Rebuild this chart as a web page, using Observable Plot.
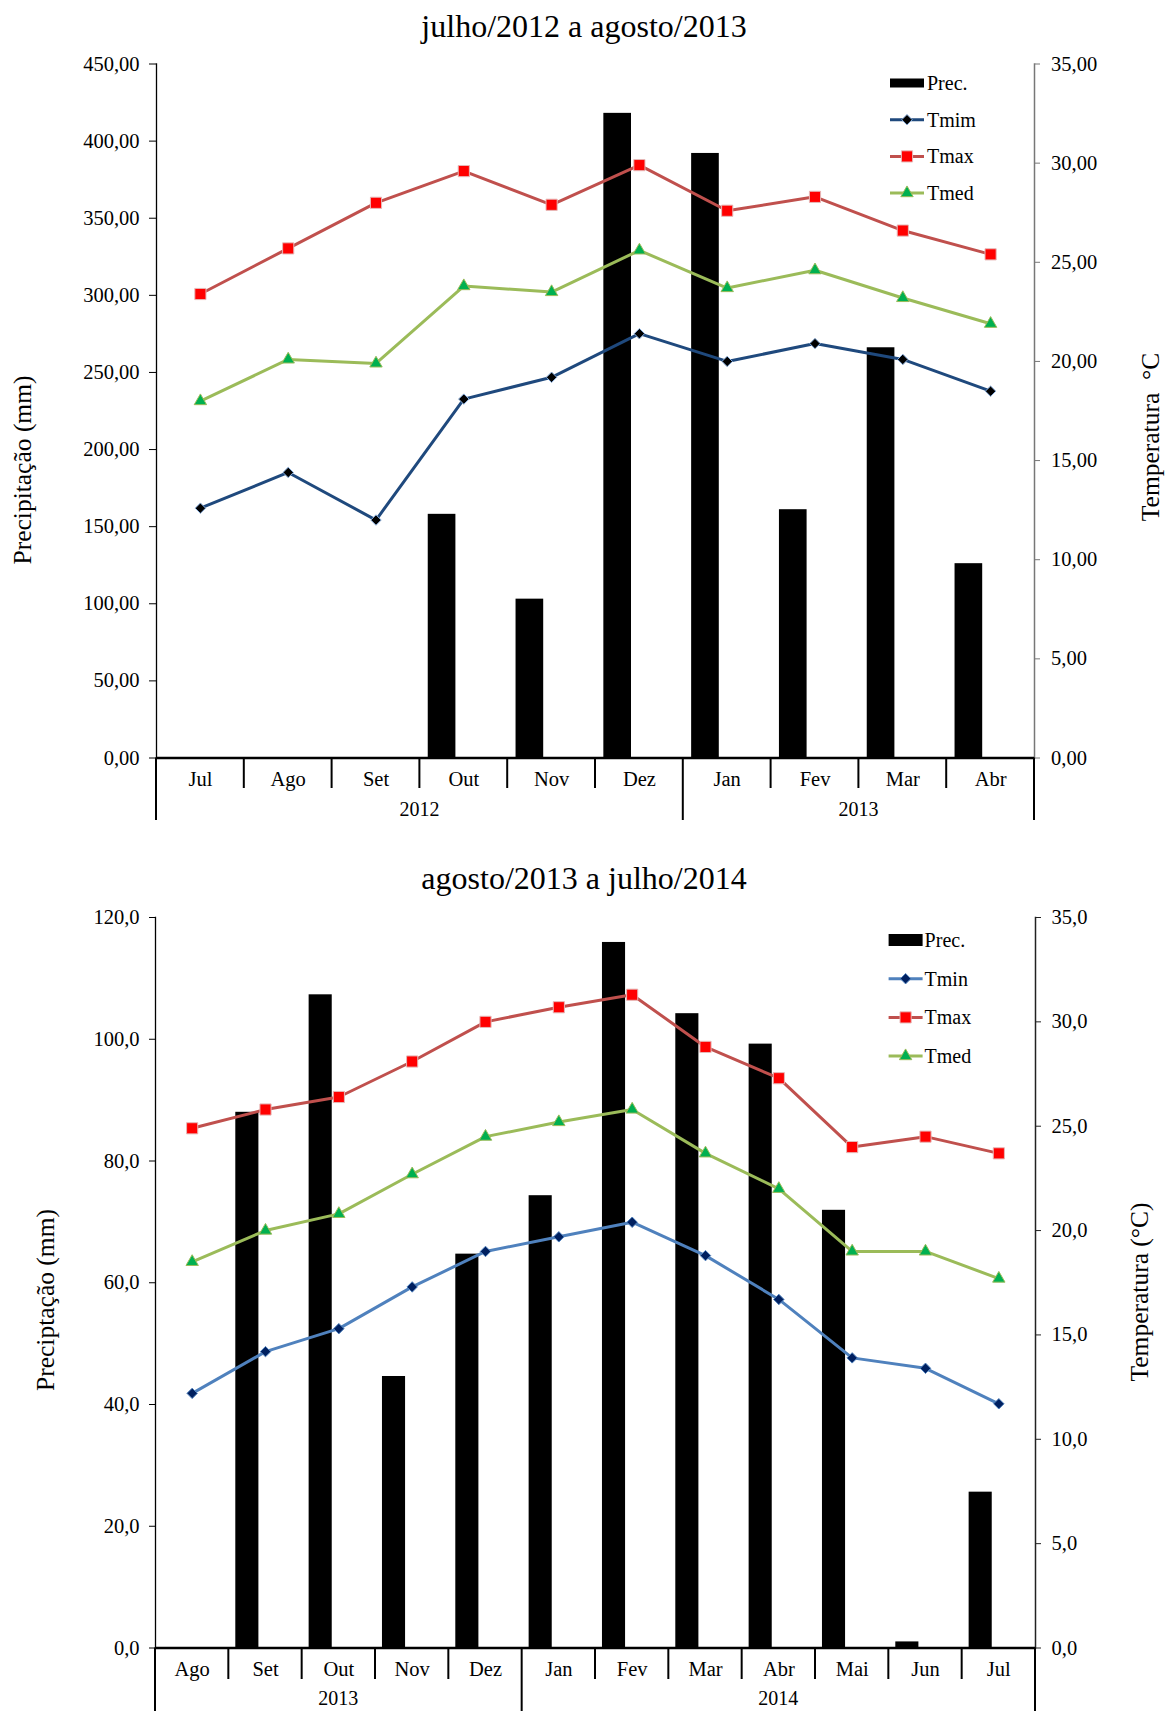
<!DOCTYPE html>
<html><head><meta charset="utf-8">
<script src="https://cdn.jsdelivr.net/npm/d3@7"></script>
<script src="https://cdn.jsdelivr.net/npm/@observablehq/plot@0.6"></script>
<style>
body{margin:0;background:#fff;}
#page{position:relative;width:1168px;height:1711px;font-family:"Liberation Serif","Times New Roman",serif;color:#000;overflow:hidden;}
.title{position:absolute;left:0;width:1168px;text-align:center;font-size:32px;line-height:32px;}
.chart{position:absolute;left:0;}
</style></head>
<body><div id="page">
<div class="title" style="top:10px">julho/2012 a agosto/2013</div>
<div class="chart" id="c1" style="top:45px"></div>
<div class="title" style="top:862px">agosto/2013 a julho/2014</div>
<div class="chart" id="c2" style="top:895px"></div>
</div>
<script>
// ---- Chart 1 data: julho/2012 a agosto/2013
const months1 = ["Jul","Ago","Set","Out","Nov","Dez","Jan","Fev","Mar","Abr"];
const years1  = ["2012","2012","2012","2012","2012","2012","2013","2013","2013","2013"];
const prec1   = [0, 0, 0, 158, 103, 418, 392, 161, 266, 126];
const tmin1   = [12.6, 14.4, 12.0, 18.1, 19.2, 21.4, 20.0, 20.9, 20.1, 18.5];
const tmax1   = [23.4, 25.7, 28.0, 29.6, 27.9, 29.9, 27.6, 28.3, 26.6, 25.4];
const tmed1   = [18.0, 20.1, 19.9, 23.8, 23.5, 25.6, 23.7, 24.6, 23.2, 21.9];
const legend1 = ["Prec.","Tmim","Tmax","Tmed"];

// ---- Chart 2 data: agosto/2013 a julho/2014
const months2 = ["Ago","Set","Out","Nov","Dez","Jan","Fev","Mar","Abr","Mai","Jun","Jul"];
const years2  = ["2013","2013","2013","2013","2013","2014","2014","2014","2014","2014","2014","2014"];
const prec2   = [0, 88.0, 107.3, 44.6, 64.7, 74.3, 115.9, 104.2, 99.2, 71.9, 1.0, 25.6];
const tmin2   = [12.2, 14.2, 15.3, 17.3, 19.0, 19.7, 20.4, 18.8, 16.7, 13.9, 13.4, 11.7];
const tmax2   = [24.9, 25.8, 26.4, 28.1, 30.0, 30.7, 31.3, 28.8, 27.3, 24.0, 24.5, 23.7];
const tmed2   = [18.5, 20.0, 20.8, 22.7, 24.5, 25.2, 25.8, 23.7, 22.0, 19.0, 19.0, 17.7];
const legend2 = ["Prec.","Tmin","Tmax","Tmed"];

const FONT = '"Liberation Serif","Times New Roman",serif';
const TICKFS = 20.5;
const comma = (d, n) => d.toFixed(n).replace(".", ",");

function makeChart(o) {
  const data = o.months.map((m, i) => ({m, yr: o.years[i], p: o.prec[i], tn: o.tmin[i], tx: o.tmax[i], tm: o.tmed[i]}));
  const k = o.pMax / o.tMax;
  const bw = (o.width - o.ml - o.mr) / o.months.length;
  const series = [
    {key: "tn", line: o.minLine, symbol: "diamond2", r: 4.7, fill: o.minFill, stroke: o.minStroke},
    {key: "tx", line: "#C0504D", symbol: "square", r: 6.3, fill: "#FF0000", stroke: "#E6B9B8"},
    {key: "tm", line: "#9BBB59", symbol: "triangle", r: 4.6, fill: "#00B050", stroke: "#9BBB59"}
  ];
  const marks = [
    Plot.barY(data, {x: "m", y: "p", fill: "#000", insetLeft: bw * 0.095, insetRight: bw * 0.59}),
    Plot.axisY(d3.range(0, o.pMax + 1e-9, o.pStep), {anchor: "left", tickSize: o.tsL, tickPadding: 10, tickFormat: d => comma(d, o.dec), label: null, fontSize: TICKFS}),
    Plot.axisY(d3.range(0, o.tMax + 1e-9, 5).map(t => t * k), {anchor: "right", tickSize: 5, tickPadding: o.tpR, stroke: o.rightColor, tickFormat: d => comma(d / k, o.dec), label: null, fontSize: TICKFS}),
    Plot.axisX({tickSize: 0, tickPadding: o.tpX, label: null, fontSize: TICKFS}),
    Plot.frame({anchor: "left", stroke: "#000", strokeWidth: 1.3}),
    Plot.frame({anchor: "right", stroke: o.rightColor, strokeWidth: 1.5}),
    Plot.ruleY([0], {stroke: "#000", strokeWidth: 2.5})
  ];
  for (const s of series) {
    marks.push(Plot.line(data, {x: "m", y: d => d[s.key] * k, stroke: s.line, strokeWidth: 3}));
    marks.push(Plot.dot(data, {x: "m", y: d => d[s.key] * k, symbol: s.symbol, r: s.r, fill: s.fill, stroke: s.stroke, strokeWidth: 1}));
  }
  const plot = Plot.plot({
    width: o.width, height: o.height,
    marginLeft: o.ml, marginRight: o.mr, marginTop: o.mt, marginBottom: o.mb,
    style: {fontFamily: FONT, fontSize: TICKFS + "px", color: "#000", background: "transparent", overflow: "visible"},
    x: {type: "band", domain: o.months, padding: 0, round: false, label: null},
    y: {domain: [0, o.pMax], label: null},
    marks
  });

  const svg = d3.select(plot);
  const sx = plot.scale("x");
  const by = o.height - o.mb;
  const n = o.months.length;
  const bound = i => i < n ? sx.apply(o.months[i]) : sx.apply(o.months[n - 1]) + sx.bandwidth;
  // category separators (two-level axis)
  for (let i = 0; i <= n; i++) {
    const x = bound(i);
    const long = i === 0 || i === n || o.years[i] !== o.years[i - 1];
    svg.append("line").attr("x1", x).attr("x2", x).attr("y1", by).attr("y2", by + (long ? o.longLen : o.shortLen))
      .attr("stroke", "#000").attr("stroke-width", 2);
  }
  // year labels
  let start = 0;
  for (let i = 1; i <= n; i++) {
    if (i === n || o.years[i] !== o.years[i - 1]) {
      const cx = (bound(start) + bound(i)) / 2;
      svg.append("text").attr("x", cx).attr("y", by + o.yearOff).attr("dy", "0.35em")
        .attr("text-anchor", "middle").attr("font-size", 20).attr("fill", "#000").text(o.years[start]);
      start = i;
    }
  }
  // legend
  const lg = svg.append("g").attr("font-size", 20).attr("fill", "#000").attr("text-anchor", "start");
  o.legend.forEach((name, i) => {
    const cy = o.lgTop + i * o.lgStep;
    const x0 = o.lgX, x1 = o.lgX + 34;
    if (i === 0) {
      lg.append("rect").attr("x", x0).attr("y", cy - o.lgRectH / 2).attr("width", 34).attr("height", o.lgRectH).attr("fill", "#000");
    } else {
      const s = series[i - 1];
      lg.append("line").attr("x1", x0).attr("x2", x1).attr("y1", cy).attr("y2", cy).attr("stroke", s.line).attr("stroke-width", 3);
      lg.append("path").attr("transform", `translate(${(x0 + x1) / 2},${cy})`)
        .attr("d", d3.symbol(s.symbol === "square" ? d3.symbolSquare : s.symbol === "triangle" ? d3.symbolTriangle : d3.symbolDiamond2, s.r * s.r * Math.PI)())
        .attr("fill", s.fill).attr("stroke", s.stroke).attr("stroke-width", 1);
    }
    lg.append("text").attr("x", x1 + o.lgGap).attr("y", cy).attr("dy", "0.35em").attr("text-anchor", "start").text(name);
  });
  // axis titles
  svg.append("text").attr("transform", `translate(${o.lblL[0]},${o.lblL[1]}) rotate(-90)`)
    .attr("text-anchor", "middle").attr("font-size", 25.5).attr("fill", "#000").style("white-space", "pre").text(o.labelL);
  svg.append("text").attr("transform", `translate(${o.lblR[0]},${o.lblR[1]}) rotate(-90)`)
    .attr("text-anchor", "middle").attr("font-size", 25.5).attr("fill", "#000").style("white-space", "pre").text(o.labelR);
  return plot;
}

document.getElementById("c1").appendChild(makeChart({
  months: months1, years: years1, prec: prec1, tmin: tmin1, tmax: tmax1, tmed: tmed1, legend: legend1,
  width: 1168, height: 795, ml: 156, mr: 134, mt: 18.5, mb: 82.5,
  pMax: 450, pStep: 50, tMax: 35, dec: 2, tsL: 7, tpR: 11.5, tpX: 13.5,
  rightColor: "#777", minLine: "#1F497D", minFill: "#000", minStroke: "#8DB3E2",
  shortLen: 30.5, longLen: 62.5, yearOff: 51.5,
  lgX: 890, lgTop: 38, lgStep: 36.7, lgRectH: 9, lgGap: 3,
  labelL: "Precipitação (mm)", lblL: [31, 425],
  labelR: "Temperatura  °C", lblR: [1159, 392]
}));

document.getElementById("c2").appendChild(makeChart({
  months: months2, years: years2, prec: prec2, tmin: tmin2, tmax: tmax2, tmed: tmed2, legend: legend2,
  width: 1168, height: 816, ml: 155, mr: 133, mt: 22, mb: 63.5,
  pMax: 120, pStep: 20, tMax: 35, dec: 1, tsL: 6, tpR: 11, tpX: 13,
  rightColor: "#222", minLine: "#4F81BD", minFill: "#002060", minStroke: "#4F81BD",
  shortLen: 31.5, longLen: 70, yearOff: 50.5,
  lgX: 888.6, lgTop: 45, lgStep: 38.7, lgRectH: 12, lgGap: 2,
  labelL: "Preciptação (mm)", lblL: [54, 405],
  labelR: "Temperatura (°C)", lblR: [1148, 397]
}));
</script>
</body></html>
